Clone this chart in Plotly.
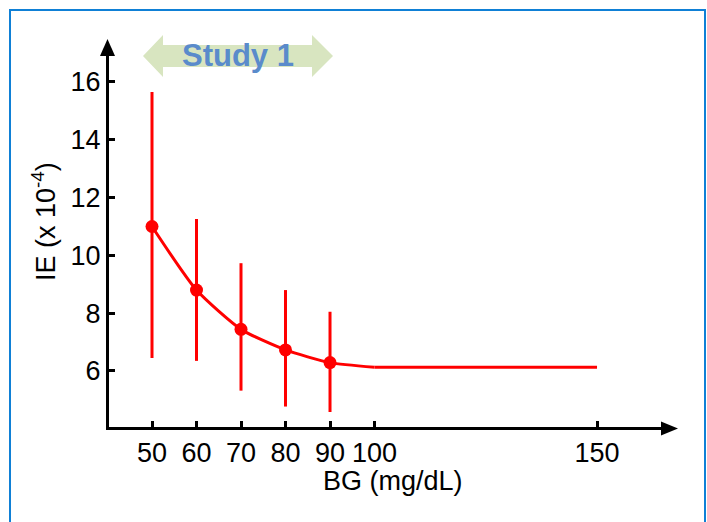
import plotly.graph_objects as go

# ---------------- data ----------------
bg = [50, 60, 70, 80, 90]
ie = [11.0, 8.80, 7.44, 6.73, 6.29]
ie_upper = [15.65, 11.26, 9.73, 8.80, 8.05]
ie_lower = [6.45, 6.35, 5.32, 4.77, 4.58]

curve_bg = [50, 60, 70, 80, 90, 100]
curve_ie = [11.0, 8.80, 7.44, 6.73, 6.29, 6.13]
plateau_bg = [100, 150]
plateau_ie = [6.13, 6.13]

x_ticks = [50, 60, 70, 80, 90, 100, 150]
y_ticks = [6, 8, 10, 12, 14, 16]

err_plus = [u - m for u, m in zip(ie_upper, ie)]
err_minus = [m - l for m, l in zip(ie, ie_lower)]

# ---------------- layout geometry (pixels) ----------------
W, H = 707, 522
ML, MR, MT, MB = 109, 37, 48, 95
PW = W - ML - MR
PH = H - MT - MB

def px(p):
    return (p - ML) / PW

def py(p):
    return (H - MB - p) / PH

FONT = "Liberation Sans, Arial, sans-serif"
RED = "#ff0000"

fig = go.Figure()

fig.add_trace(go.Scatter(
    x=curve_bg, y=curve_ie, mode="lines",
    line=dict(color=RED, width=3, shape="spline", smoothing=0.6),
    hoverinfo="skip", showlegend=False,
))
fig.add_trace(go.Scatter(
    x=plateau_bg, y=plateau_ie, mode="lines",
    line=dict(color=RED, width=3),
    hoverinfo="skip", showlegend=False,
))

fig.add_trace(go.Scatter(
    x=bg, y=ie, mode="markers",
    marker=dict(color=RED, size=13),
    error_y=dict(type="data", symmetric=False, array=err_plus, arrayminus=err_minus,
                 color=RED, thickness=3, width=0),
    showlegend=False,
))

axis_common = dict(
    showgrid=False, zeroline=False, showline=True, linecolor="black", linewidth=3,
    ticks="inside", ticklen=6, tickwidth=3, tickcolor="black",
    tickfont=dict(family=FONT, size=27, color="black"),
)

fig.update_xaxes(range=[40.337, 166.4], tickmode="array", tickvals=x_ticks,
                 ticktext=[str(v) for v in x_ticks], **axis_common)
fig.update_yaxes(range=[4.062, 17.176], tickmode="array", tickvals=y_ticks,
                 ticktext=[str(v) for v in y_ticks], **axis_common)

shapes = []
# y-axis arrowhead
shapes.append(dict(type="path", xref="paper", yref="paper",
                   path=f"M {px(100)},{py(56)} L {px(107.5)},{py(39)} L {px(115)},{py(56)} Z",
                   fillcolor="black", line=dict(color="black", width=0)))
# x-axis arrowhead
shapes.append(dict(type="path", xref="paper", yref="paper",
                   path=f"M {px(661)},{py(421.5)} L {px(678)},{py(428.5)} L {px(661)},{py(435.5)} Z",
                   fillcolor="black", line=dict(color="black", width=0)))
# Study 1 double arrow
pts = [(143, 56), (163, 35), (163, 45), (312, 45), (312, 35), (333, 56),
       (312, 77), (312, 67), (163, 67), (163, 77)]
path = "M " + " L ".join(f"{px(a)},{py(b)}" for a, b in pts) + " Z"
shapes.append(dict(type="path", xref="paper", yref="paper", path=path,
                   fillcolor="#d8e5c0", line=dict(width=0), layer="above"))
# outer border
shapes.append(dict(type="rect", xref="paper", yref="paper",
                   x0=px(10), y0=py(560), x1=px(705), y1=py(10),
                   line=dict(color="#0f80d6", width=2), fillcolor="rgba(0,0,0,0)"))

annotations = [
    dict(text="<b>Study 1</b>", xref="paper", yref="paper", x=px(238), y=py(56),
         showarrow=False, xanchor="center", yanchor="middle",
         font=dict(family=FONT, size=31, color="#5a8bcb")),
    dict(text="BG (mg/dL)", xref="paper", yref="paper", x=px(393), y=py(481),
         showarrow=False, xanchor="center", yanchor="middle",
         font=dict(family=FONT, size=27, color="black")),
    dict(text="IE (x 10<sup>-4</sup>)", xref="paper", yref="paper", x=px(44), y=py(222),
         showarrow=False, xanchor="center", yanchor="middle", textangle=-90,
         font=dict(family=FONT, size=27, color="black")),
]

fig.update_layout(
    width=W, height=H,
    margin=dict(l=ML, r=MR, t=MT, b=MB, pad=0),
    plot_bgcolor="white", paper_bgcolor="white",
    shapes=shapes, annotations=annotations,
)

fig.write_html("out.html", config={"displayModeBar": False})
